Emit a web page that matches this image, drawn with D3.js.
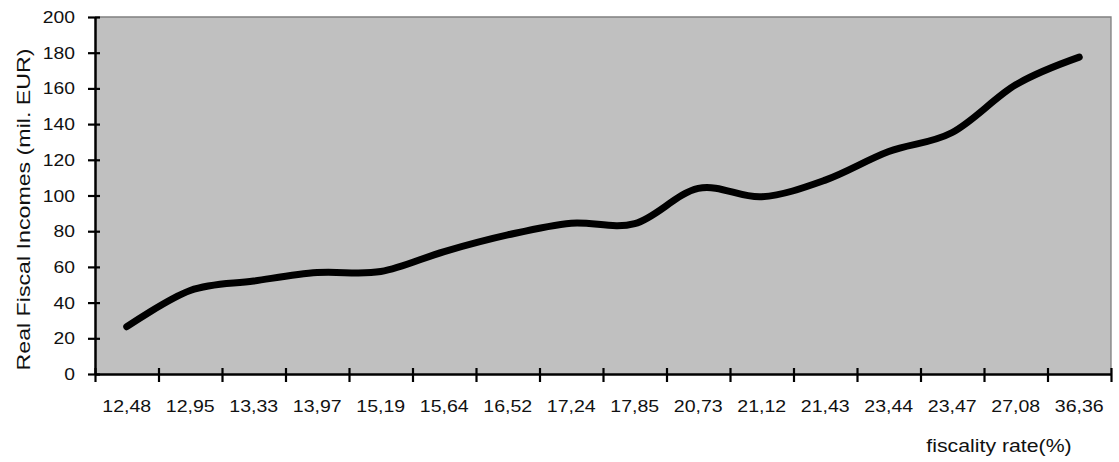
<!DOCTYPE html>
<html>
<head>
<meta charset="utf-8">
<script src="https://cdn.jsdelivr.net/npm/d3@7"></script>
<style>
  html, body { margin: 0; padding: 0; background: #fff; }
  svg { display: block; font-family: "Liberation Sans", Arial, sans-serif; }
  .lbl { font-family: "Liberation Sans", Arial, sans-serif; fill: #111; }
</style>
</head>
<body>
<svg id="chart" width="1119" height="462"></svg>
<script>
// Fiscality rate (%) categories and real fiscal incomes (mil. EUR)
const categories = ["12,48","12,95","13,33","13,97","15,19","15,64","16,52","17,24",
                    "17,85","20,73","21,12","21,43","23,44","23,47","27,08","36,36"];
const incomes = [26.5, 46.8, 52.1, 56.8, 57.4, 68.6, 77.9, 84.5,
                 84.2, 104.0, 99.3, 108.6, 124.6, 135.3, 162.0, 177.5];
const yTicks = [0, 20, 40, 60, 80, 100, 120, 140, 160, 180, 200];

const svg = d3.select("#chart");
const plotLeft = 95, plotRight = 1111, plotTop = 17, plotBottom = 374;

const x = d3.scaleBand().domain(categories).range([plotLeft, plotRight]).padding(0);
const xEdge = d3.scaleLinear().domain([0, categories.length]).range([plotLeft, plotRight]);
const y = d3.scaleLinear().domain([0, 200]).range([plotBottom, plotTop]);

// plot area
svg.append("rect")
  .attr("x", plotLeft).attr("y", plotTop)
  .attr("width", plotRight - plotLeft).attr("height", plotBottom - plotTop)
  .attr("fill", "#c0c0c0");
svg.append("path")
  .attr("d", `M${plotLeft},${plotTop}H${plotRight}V${plotBottom}`)
  .attr("fill", "none").attr("stroke", "#808080").attr("stroke-width", 1.3);

// y axis line and ticks (labels drawn separately below)
const yAxis = svg.append("g")
  .attr("transform", `translate(${plotLeft},0)`)
  .call(d3.axisLeft(y).tickValues(yTicks).tickSize(7).tickSizeOuter(0).tickFormat(""));
yAxis.select(".domain").attr("stroke", "#000").attr("stroke-width", 2.5);
yAxis.selectAll(".tick line").attr("stroke", "#000").attr("stroke-width", 2.2)
  .attr("x1", 5).attr("x2", -7);

// y tick labels
svg.append("g").selectAll("text")
  .data(yTicks)
  .join("text")
  .attr("class", "lbl")
  .attr("transform", d => `translate(75,${y(d) + 6}) scale(1.17,1)`)
  .attr("text-anchor", "end")
  .attr("font-size", 16.5)
  .style("font-size", "16.5px")
  .text(d => d);

// x axis: tick marks at category boundaries
const xTickAxis = svg.append("g")
  .attr("transform", `translate(0,${plotBottom})`)
  .call(d3.axisBottom(xEdge).tickValues(d3.range(categories.length + 1))
    .tickSize(7).tickSizeOuter(0).tickFormat(""));
xTickAxis.select(".domain").attr("stroke", "#000").attr("stroke-width", 2.5);
xTickAxis.selectAll(".tick line").attr("stroke", "#000").attr("stroke-width", 2.2)
  .attr("y1", -6).attr("y2", 8);

// x category labels
svg.append("g").selectAll("text")
  .data(categories)
  .join("text")
  .attr("class", "lbl")
  .attr("transform", d => `translate(${x(d) + x.bandwidth() / 2},412) scale(1.15,1)`)
  .attr("text-anchor", "middle")
  .attr("font-size", 17)
  .style("font-size", "17px")
  .text(d => d);

// smoothed income line
const line = d3.line()
  .x((d, i) => x(categories[i]) + x.bandwidth() / 2)
  .y(d => y(d))
  .curve(d3.curveCardinal.tension(0));
svg.append("path")
  .datum(incomes)
  .attr("d", line)
  .attr("fill", "none")
  .attr("stroke", "#000")
  .attr("stroke-width", 7)
  .attr("stroke-linecap", "round")
  .attr("stroke-linejoin", "round");

// axis titles
svg.append("text")
  .attr("class", "lbl")
  .attr("transform", `translate(30,${(plotTop + plotBottom) / 2 + 14}) rotate(-90)`)
  .attr("text-anchor", "middle")
  .style("font-size", "18.5px")
  .attr("textLength", 322)
  .attr("lengthAdjust", "spacingAndGlyphs")
  .text("Real Fiscal Incomes (mil. EUR)");

svg.append("text")
  .attr("class", "lbl")
  .attr("transform", "translate(999,452) scale(1.15,1)")
  .attr("text-anchor", "middle")
  .style("font-size", "18.5px")
  .text("fiscality rate(%)");
</script>
</body>
</html>
